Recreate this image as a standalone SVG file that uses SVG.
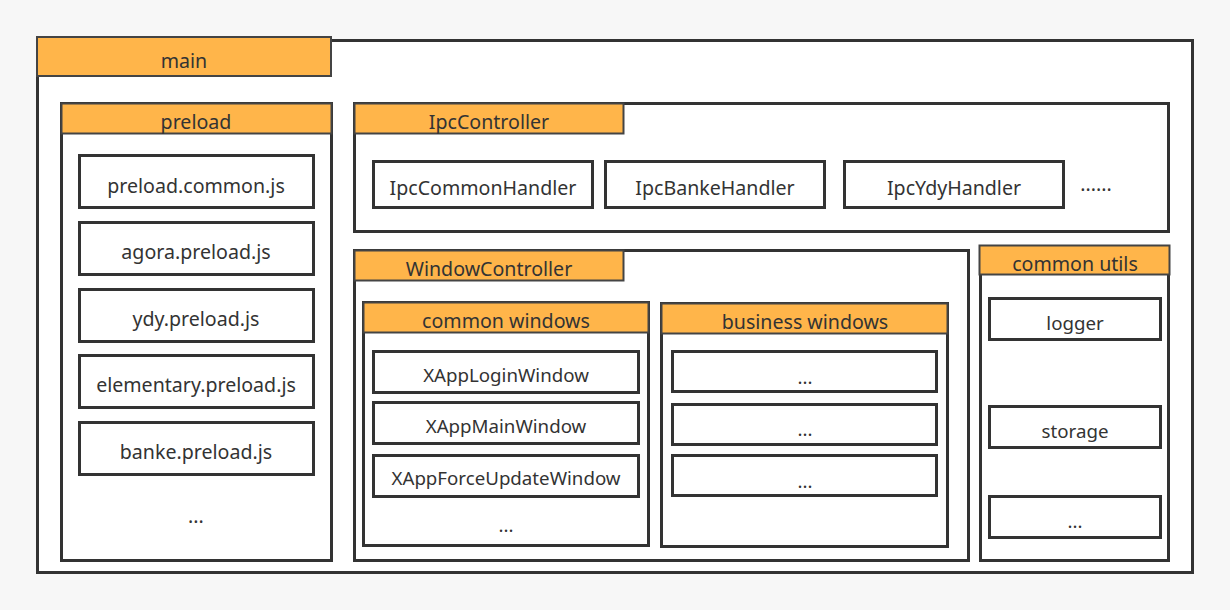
<svg xmlns="http://www.w3.org/2000/svg" width="1230" height="610" viewBox="0 0 1230 610">
<style>
.box{fill:#fff;stroke:#333;stroke-width:3}
.tab{fill:#ffb54a;stroke:#444;stroke-width:2}
.item{fill:#fff;stroke:#333;stroke-width:3}
text{font-family:"Noto Sans","Open Sans","Liberation Sans",sans-serif;fill:#333;text-anchor:middle;dominant-baseline:central}
.t{font-size:19.6px}
.i{font-size:18.7px}
</style>
<rect x="0" y="0" width="1230" height="610" fill="#f7f7f7"/>
<g id="main">
<rect class="box" x="37.5" y="40.5" width="1155" height="532"/>
<rect class="tab" x="37" y="37" width="294" height="39"/>
<text class="t" x="184" y="60">main</text>
</g>
<g id="preload">
<rect class="box" x="61.5" y="103.5" width="270" height="457"/>
<rect class="tab" x="61.5" y="103.5" width="270" height="30"/>
<text class="t" x="196" y="121">preload</text>
<g id="preload-common"><rect class="item" x="79.5" y="155.5" width="234" height="52"/><text class="t" x="196" y="185">preload.common.js</text></g>
<g id="agora-preload"><rect class="item" x="79.5" y="222.5" width="234" height="52"/><text class="t" x="196" y="251">agora.preload.js</text></g>
<g id="ydy-preload"><rect class="item" x="79.5" y="289.5" width="234" height="52"/><text class="t" x="196" y="318">ydy.preload.js</text></g>
<g id="elementary-preload"><rect class="item" x="79.5" y="355.5" width="234" height="52"/><text class="t" x="196" y="384">elementary.preload.js</text></g>
<g id="banke-preload"><rect class="item" x="79.5" y="422.5" width="234" height="52"/><text class="t" x="196" y="451">banke.preload.js</text></g>
<text class="t" x="196" y="515">...</text>
</g>
<g id="ipc-controller">
<rect class="box" x="354.5" y="103.5" width="814" height="128"/>
<rect class="tab" x="354.5" y="103.5" width="269" height="30"/>
<text class="t" x="489" y="121">IpcController</text>
<g id="ipc-common"><rect class="item" x="373.5" y="161.5" width="219" height="46"/><text class="t" x="483" y="187">IpcCommonHandler</text></g>
<g id="ipc-banke"><rect class="item" x="605.5" y="161.5" width="219" height="46"/><text class="t" x="715" y="187">IpcBankeHandler</text></g>
<g id="ipc-ydy"><rect class="item" x="844.5" y="161.5" width="219" height="46"/><text class="t" x="954" y="187">IpcYdyHandler</text></g>
<text class="t" x="1096" y="183">......</text>
</g>
<g id="window-controller">
<rect class="box" x="354.5" y="250.5" width="614" height="310"/>
<rect class="tab" x="354.5" y="250.5" width="269" height="30"/>
<text class="t" x="489" y="268">WindowController</text>
<g id="common-windows">
<rect class="box" x="363.5" y="302.5" width="285" height="243"/>
<rect class="tab" x="363.5" y="302.5" width="285" height="30"/>
<text class="t" x="506" y="320">common windows</text>
<g id="login-window"><rect class="item" x="373.5" y="351.5" width="265" height="41"/><text class="i" x="506" y="374">XAppLoginWindow</text></g>
<g id="main-window"><rect class="item" x="373.5" y="402.5" width="265" height="41"/><text class="i" x="506" y="425">XAppMainWindow</text></g>
<g id="force-update-window"><rect class="item" x="373.5" y="455.5" width="265" height="41"/><text class="i" x="506" y="477">XAppForceUpdateWindow</text></g>
<text class="i" x="506" y="524">...</text>
</g>
<g id="business-windows">
<rect class="box" x="661.5" y="303.5" width="286" height="243"/>
<rect class="tab" x="661.5" y="303.5" width="286" height="30"/>
<text class="t" x="805" y="321">business windows</text>
<g id="biz-1"><rect class="item" x="672.5" y="351.5" width="264" height="40"/><text class="i" x="805" y="376">...</text></g>
<g id="biz-2"><rect class="item" x="672.5" y="404.5" width="264" height="40"/><text class="i" x="805" y="428">...</text></g>
<g id="biz-3"><rect class="item" x="672.5" y="455.5" width="264" height="40"/><text class="i" x="805" y="480">...</text></g>
</g>
</g>
<g id="common-utils">
<rect class="box" x="980.5" y="246.5" width="188" height="314"/>
<rect class="tab" x="979.5" y="245.5" width="190" height="29"/>
<text class="t" x="1075" y="263">common utils</text>
<g id="logger"><rect class="item" x="989.5" y="298.5" width="171" height="41"/><text class="i" x="1075" y="322">logger</text></g>
<g id="storage"><rect class="item" x="989.5" y="406.5" width="171" height="41"/><text class="i" x="1075" y="430">storage</text></g>
<g id="utils-more"><rect class="item" x="989.5" y="496.5" width="171" height="41"/><text class="i" x="1075" y="520">...</text></g>
</g>
<g id="connectors"></g>
</svg>
